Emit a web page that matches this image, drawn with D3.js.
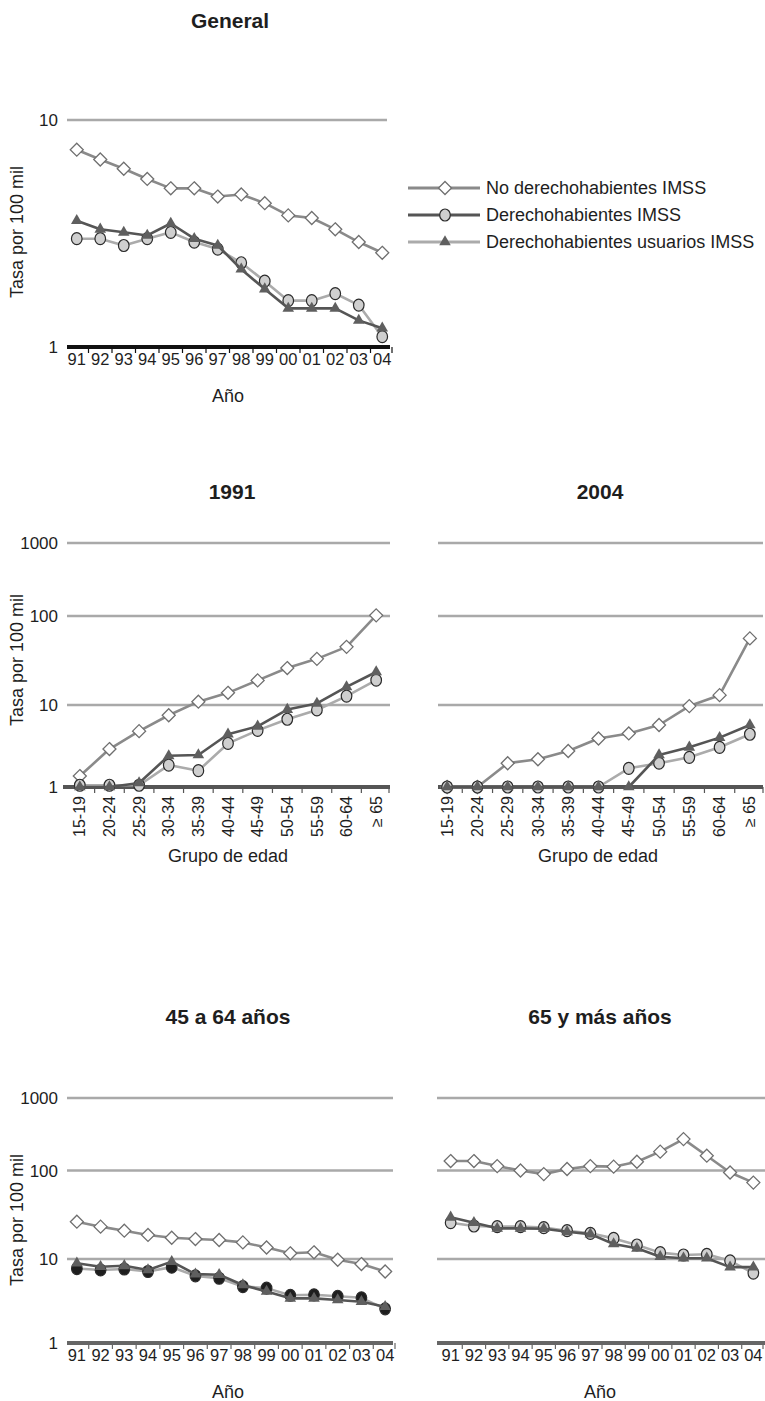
<!DOCTYPE html>
<html>
<head>
<meta charset="utf-8">
<script src="https://cdn.jsdelivr.net/npm/d3@7"></script>
<style>
  html, body { margin: 0; padding: 0; background: #fff; }
  svg { display: block; font-family: "Liberation Sans", Arial, Helvetica, sans-serif; }
</style>
</head>
<body>
<svg id="chart" width="765" height="1401"></svg>
<script>
// ---------------- DATA ----------------
const years = ["91","92","93","94","95","96","97","98","99","00","01","02","03","04"];
const ageGroups = ["15-19","20-24","25-29","30-34","35-39","40-44","45-49","50-54","55-59","60-64","\u2265 65"];
const seriesNames = ["No derechohabientes IMSS","Derechohabientes IMSS","Derechohabientes usuarios IMSS"];
const panelTitles = ["General","1991","2004","45 a 64 a\u00f1os","65 y m\u00e1s a\u00f1os"];
const yTicksGeneral = [1, 10];
const yTicksWide = [1, 10, 100, 1000];

// General (by year)
const genNoDer = [7.4, 6.7, 6.1, 5.5, 5.0, 5.0, 4.6, 4.7, 4.3, 3.8, 3.7, 3.3, 2.9, 2.6];
const genDer   = [3.0, 3.0, 2.8, 3.0, 3.2, 2.9, 2.7, 2.35, 1.95, 1.6, 1.6, 1.72, 1.53, 1.11];
const genUsu   = [3.6, 3.3, 3.2, 3.1, 3.5, 3.0, 2.8, 2.2, 1.8, 1.48, 1.48, 1.48, 1.31, 1.21];

// 1991 (by age group)
const a91NoDer = [1.36, 2.9, 4.8, 7.5, 10.9, 13.7, 18.9, 26, 33, 45, 102];
const a91Der   = [1.05, 1.05, 1.05, 1.85, 1.58, 3.4, 4.9, 6.7, 8.7, 12.6, 19];
const a91Usu   = [1.0, 1.0, 1.12, 2.4, 2.46, 4.4, 5.5, 8.8, 10.4, 16, 23.5];

// 2004 (by age group)
const a04NoDer = [1.0, 1.0, 1.95, 2.18, 2.75, 3.9, 4.5, 5.7, 9.7, 12.9, 56];
const a04Der   = [1.0, 1.0, 1.0, 1.0, 1.0, 1.0, 1.69, 1.95, 2.3, 3.05, 4.4];
const a04Usu   = [1.0, 1.0, 1.0, 1.0, 1.0, 1.0, 1.0, 2.46, 3.05, 4.0, 5.7];

// 45 a 64 años (by year)
const m45NoDer = [26.4, 23.2, 20.9, 18.7, 17.4, 16.8, 16.4, 15.4, 13.5, 11.6, 11.9, 9.8, 8.7, 7.1];
const m45Der   = [7.7, 7.4, 7.6, 7.1, 8.0, 6.3, 5.9, 4.7, 4.5, 3.7, 3.75, 3.6, 3.45, 2.55];
const m45Usu   = [8.9, 8.1, 8.3, 7.4, 9.3, 6.6, 6.5, 4.9, 4.1, 3.4, 3.4, 3.25, 3.1, 2.7];

// 65 y más años (by year)
const m65NoDer = [135, 135, 115, 100, 91, 105, 115, 113, 132, 182, 271, 160, 95, 73];
const m65Der   = [25.7, 23.6, 23.2, 23.2, 22.6, 20.9, 19.5, 17.1, 14.4, 11.8, 11.1, 11.3, 9.5, 6.8];
const m65Usu   = [29.6, 25.7, 22.2, 22.2, 22.0, 20.3, 19.1, 14.8, 13.2, 10.6, 10.2, 10.2, 8.0, 8.0];

// ---------------- STYLES ----------------
const GRID = "#a9a9a9";
const TXT = "#1e1e1e";
const styles = [
  { line: "#8a8a8a", marker: "diamond",  fill: "#ffffff", stroke: "#6f6f6f" },
  { line: "#ababab", marker: "circle",   fill: "#cfcfcf", stroke: "#2a2a2a" },
  { line: "#555555", marker: "triangle", fill: "#5f5f5f", stroke: "#5f5f5f" }
];

const svg = d3.select("#chart");

function drawMarker(g, type, x, y, st) {
  if (type === "diamond") {
    g.append("path").attr("d", `M${x},${y-6.5}L${x+6.5},${y}L${x},${y+6.5}L${x-6.5},${y}Z`)
      .attr("fill", st.fill).attr("stroke", st.stroke).attr("stroke-width", 1.3);
  } else if (type === "circle") {
    g.append("ellipse").attr("cx", x).attr("cy", y).attr("rx", 5.3).attr("ry", 6)
      .attr("fill", st.fill).attr("stroke", st.stroke).attr("stroke-width", 1.2);
  } else {
    g.append("path").attr("d", d3.symbol().type(d3.symbolTriangle).size(58)())
      .attr("transform", `translate(${x},${y})`)
      .attr("fill", st.fill).attr("stroke", "none");
  }
}

function drawPanel(cfg) {
  const g = svg.append("g");
  const x = d3.scaleBand().domain(cfg.cats).range(cfg.xRange);
  const y = d3.scaleLog().domain(cfg.yDomain).range(cfg.yRange);
  const axisY = y(1);

  // title
  g.append("text").attr("x", cfg.titleX).attr("y", cfg.titleY)
    .attr("text-anchor", "middle").attr("font-weight", "bold").attr("font-size", 21)
    .attr("fill", TXT).text(cfg.title);

  // gridlines
  cfg.yTicks.filter(t => t !== 1).forEach(t => {
    g.append("line").attr("x1", cfg.gridX[0]).attr("x2", cfg.gridX[1])
      .attr("y1", y(t)).attr("y2", y(t)).attr("stroke", GRID).attr("stroke-width", 2.5);
  });

  // y tick labels
  if (cfg.showYLabels) {
    cfg.yTicks.forEach(t => {
      g.append("text").attr("x", cfg.gridX[0] - 9).attr("y", y(t))
        .attr("dy", "0.36em").attr("text-anchor", "end").attr("font-size", 17)
        .attr("fill", TXT).text(t);
    });
    g.append("text")
      .attr("transform", `translate(${cfg.yTitleX},${cfg.yTitleY}) rotate(-90)`)
      .attr("text-anchor", "middle").attr("dy", "0.35em").attr("font-size", 18)
      .attr("fill", TXT).text("Tasa por 100 mil");
  }

  // axis line
  g.append("line").attr("x1", cfg.axisX[0]).attr("x2", cfg.axisX[1])
    .attr("y1", axisY).attr("y2", axisY).attr("stroke", cfg.axisColor).attr("stroke-width", 4);

  // tick marks at band boundaries
  cfg.cats.forEach((c, i) => {
    if (i === 0) return;
    const bx = x(c);
    g.append("line").attr("x1", bx).attr("x2", bx).attr("y1", axisY).attr("y2", axisY + 6)
      .attr("stroke", cfg.axisColor).attr("stroke-width", 1.2);
  });
  g.append("line").attr("x1", cfg.xRange[1] - 2).attr("x2", cfg.xRange[1] - 2)
    .attr("y1", axisY).attr("y2", axisY + 6).attr("stroke", cfg.axisColor).attr("stroke-width", 1.2);

  // x tick labels
  cfg.cats.forEach(c => {
    const cx = x(c) + x.bandwidth() / 2;
    if (cfg.rotateX) {
      g.append("text").attr("transform", `translate(${cx},${axisY + 9}) rotate(-90)`)
        .attr("text-anchor", "end").attr("dy", "0.35em").attr("font-size", 16)
        .attr("fill", TXT).text(c);
    } else {
      g.append("text").attr("x", cx).attr("y", axisY + 18)
        .attr("text-anchor", "middle").attr("font-size", 16.5)
        .attr("fill", TXT).text(c);
    }
  });

  // x title
  g.append("text").attr("x", cfg.xTitleX).attr("y", cfg.xTitleY)
    .attr("text-anchor", "middle").attr("font-size", 18).attr("fill", TXT).text(cfg.xTitle);

  // series
  cfg.series.forEach((vals, si) => {
    const st = Object.assign({}, styles[si], (cfg.styleOverride && cfg.styleOverride[si]) || {});
    const pts = vals.map((v, i) => [x(cfg.cats[i]) + x.bandwidth() / 2, y(v)]);
    g.append("path").attr("d", d3.line()(pts)).attr("fill", "none")
      .attr("stroke", st.line).attr("stroke-width", 2.6).attr("stroke-linejoin", "round");
    const mg = g.append("g");
    pts.forEach(p => drawMarker(mg, st.marker, p[0], p[1], st));
  });
}

const wideDomain = [1, 10, 100, 1000];

drawPanel({
  title: panelTitles[0], titleX: 230, titleY: 28,
  cats: years, xRange: [65, 394], yDomain: [1, 10], yRange: [347, 120],
  yTicks: yTicksGeneral, gridX: [67, 387], axisX: [67, 390], axisColor: "#111",
  showYLabels: true, yTitleX: 17, yTitleY: 232,
  xTitle: "A\u00f1o", xTitleX: 228, xTitleY: 402, rotateX: false,
  series: [genNoDer, genDer, genUsu]
});

drawPanel({
  title: panelTitles[1], titleX: 232, titleY: 499,
  cats: ageGroups, xRange: [65, 391], yDomain: wideDomain, yRange: [787, 705, 616, 543],
  yTicks: yTicksWide, gridX: [67, 390], axisX: [63, 390], axisColor: "#555",
  showYLabels: true, yTitleX: 17, yTitleY: 660,
  xTitle: "Grupo de edad", xTitleX: 228, xTitleY: 862, rotateX: true,
  series: [a91NoDer, a91Der, a91Usu]
});

drawPanel({
  title: panelTitles[2], titleX: 600, titleY: 499,
  cats: ageGroups, xRange: [432, 765], yDomain: wideDomain, yRange: [787, 705, 616, 543],
  yTicks: yTicksWide, gridX: [438, 763], axisX: [438, 763], axisColor: "#555",
  showYLabels: false,
  xTitle: "Grupo de edad", xTitleX: 598, xTitleY: 862, rotateX: true,
  series: [a04NoDer, a04Der, a04Usu]
});

drawPanel({
  title: panelTitles[3], titleX: 228, titleY: 1024,
  cats: years, xRange: [65, 397], yDomain: wideDomain, yRange: [1343, 1259, 1170.5, 1098],
  yTicks: yTicksWide, gridX: [67, 393], axisX: [67, 393], axisColor: "#666",
  showYLabels: true, yTitleX: 17, yTitleY: 1220,
  xTitle: "A\u00f1o", xTitleX: 228, xTitleY: 1398, rotateX: false,
  series: [m45NoDer, m45Der, m45Usu],
  styleOverride: { 1: { fill: "#1e1e1e" } }
});

drawPanel({
  title: panelTitles[4], titleX: 600, titleY: 1024,
  cats: years, xRange: [439, 765], yDomain: wideDomain, yRange: [1343, 1259, 1170.5, 1098],
  yTicks: yTicksWide, gridX: [437, 765], axisX: [437, 765], axisColor: "#666",
  showYLabels: false,
  xTitle: "A\u00f1o", xTitleX: 600, xTitleY: 1398, rotateX: false,
  series: [m65NoDer, m65Der, m65Usu]
});

// ---------------- LEGEND ----------------
const legendStyles = [
  { line: "#8a8a8a", marker: "diamond",  fill: "#ffffff", stroke: "#6f6f6f" },
  { line: "#555555", marker: "circle",   fill: "#cfcfcf", stroke: "#2a2a2a" },
  { line: "#ababab", marker: "triangle", fill: "#5f5f5f", stroke: "#5f5f5f" }
];
const lg = svg.append("g");
const legY = d3.scalePoint().domain(seriesNames).range([188, 242]);
seriesNames.forEach((name, i) => {
  const yy = legY(name);
  lg.append("line").attr("x1", 408).attr("x2", 480).attr("y1", yy).attr("y2", yy)
    .attr("stroke", legendStyles[i].line).attr("stroke-width", 2.8);
  drawMarker(lg, legendStyles[i].marker, 445, yy, legendStyles[i]);
  lg.append("text").attr("x", 486).attr("y", yy).attr("dy", "0.36em")
    .attr("font-size", 18).attr("fill", TXT).text(name);
});
</script>
</body>
</html>
